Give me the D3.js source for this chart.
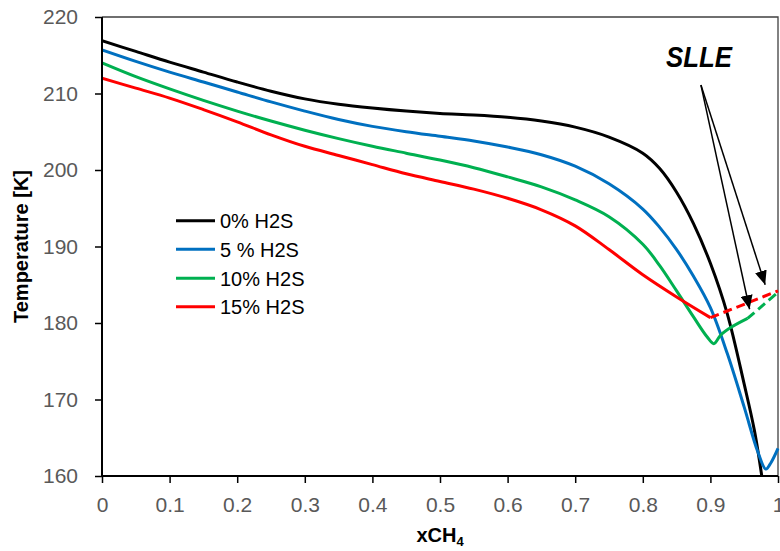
<!DOCTYPE html>
<html><head><meta charset="utf-8">
<script src="https://cdn.jsdelivr.net/npm/d3@7"></script>
<style>body{margin:0;background:#fff} svg{display:block}</style>
</head><body>
<svg id="c" width="780" height="551"></svg>
<script>
// ---------- data ----------
const seriesNames = ["0% H2S", "5 % H2S", "10% H2S", "15% H2S"];
const seriesColors = ["#000000", "#0070C0", "#00B050", "#FF0000"];
const xTickValues = [0, 0.1, 0.2, 0.3, 0.4, 0.5, 0.6, 0.7, 0.8, 0.9, 1];
const xTickLabels = ["0", "0.1", "0.2", "0.3", "0.4", "0.5", "0.6", "0.7", "0.8", "0.9", "1"];
const yTickValues = [160, 170, 180, 190, 200, 210, 220];
const yTickLabels = ["160", "170", "180", "190", "200", "210", "220"];

// 0% H2S (solid)
const x0 = [0, 0.05, 0.1, 0.15, 0.2, 0.25, 0.3, 0.35, 0.4, 0.45, 0.5, 0.55, 0.6, 0.65, 0.7, 0.75, 0.8, 0.825, 0.85, 0.875, 0.9, 0.925, 0.95, 0.965, 0.976];
const t0 = [216.9, 215.5, 214.1, 212.8, 211.5, 210.3, 209.3, 208.6, 208.1, 207.7, 207.4, 207.2, 206.9, 206.4, 205.6, 204.3, 202.2, 200.2, 197.1, 193.0, 187.8, 181.2, 172.0, 166.0, 160.0];
// 5% H2S (solid)
const x5 = [0, 0.05, 0.1, 0.15, 0.2, 0.25, 0.3, 0.35, 0.4, 0.45, 0.5, 0.55, 0.6, 0.65, 0.7, 0.75, 0.8, 0.825, 0.85, 0.875, 0.9, 0.925, 0.95, 0.97, 0.982, 0.99, 1.0];
const t5 = [215.7, 214.2, 212.8, 211.5, 210.2, 208.9, 207.7, 206.6, 205.7, 205.0, 204.4, 203.8, 203.0, 202.0, 200.5, 198.2, 194.9, 192.5, 189.6, 186.1, 182.0, 176.0, 169.0, 163.2, 160.9, 161.8, 163.6];
// 10% H2S (solid part, then dashed SLLE part)
const x10 = [0, 0.05, 0.1, 0.15, 0.2, 0.25, 0.3, 0.35, 0.4, 0.45, 0.5, 0.55, 0.6, 0.65, 0.7, 0.75, 0.8, 0.825, 0.85, 0.875, 0.895, 0.905, 0.915, 0.93, 0.955];
const t10 = [214.0, 212.2, 210.6, 209.1, 207.7, 206.4, 205.2, 204.1, 203.1, 202.2, 201.3, 200.3, 199.1, 197.8, 196.1, 193.9, 190.3, 187.5, 184.2, 180.8, 178.2, 177.3, 178.4, 179.4, 180.6];
const x10d = [0.955, 0.98, 1.0];
const t10d = [180.6, 182.5, 184.0];
// 15% H2S (solid part, then dashed SLLE part)
const x15 = [0, 0.05, 0.1, 0.15, 0.2, 0.25, 0.3, 0.35, 0.4, 0.45, 0.5, 0.55, 0.6, 0.65, 0.7, 0.75, 0.8, 0.85, 0.9];
const t15 = [212.0, 210.7, 209.4, 207.9, 206.3, 204.6, 203.1, 201.9, 200.7, 199.5, 198.5, 197.5, 196.3, 194.8, 192.7, 189.6, 186.3, 183.4, 180.7];
const x15d = [0.9, 1.0];
const t15d = [180.7, 184.2];

// ---------- layout ----------
const L = 102, R = 778, T = 17, B = 476;
const svg = d3.select("#c");
const x = d3.scaleLinear().domain([0, 1]).range([L, R]);
const y = d3.scaleLinear().domain([160, 220]).range([B, T]);
const tickFont = "'Liberation Sans', Arial, sans-serif";

// frame (top/right)
svg.append("path")
  .attr("d", `M${L},${T}H${R}V${B}`)
  .attr("fill", "none").attr("stroke", "#404040").attr("stroke-width", 1.3);

// clip
svg.append("clipPath").attr("id", "clip")
  .append("rect").attr("x", L).attr("y", T - 2).attr("width", R - L + 2).attr("height", B - T + 3);

const pairs = (xs, ts) => xs.map((v, i) => [v, ts[i]]);
const line = d3.line().x(d => x(d[0])).y(d => y(d[1])).curve(d3.curveCatmullRom.alpha(0.5));
const lineStraight = d3.line().x(d => x(d[0])).y(d => y(d[1]));

const g = svg.append("g").attr("clip-path", "url(#clip)");
const solid = [pairs(x0, t0), pairs(x5, t5), pairs(x10, t10), pairs(x15, t15)];
solid.forEach((d, i) => {
  g.append("path").attr("d", line(d)).attr("fill", "none")
    .attr("stroke", seriesColors[i]).attr("stroke-width", 3)
    .attr("stroke-linejoin", "round").attr("stroke-linecap", "butt");
});
g.append("path").attr("d", line(pairs(x10d, t10d))).attr("fill", "none")
  .attr("stroke", seriesColors[2]).attr("stroke-width", 3).attr("stroke-dasharray", "9,5");
g.append("path").attr("d", lineStraight(pairs(x15d, t15d))).attr("fill", "none")
  .attr("stroke", seriesColors[3]).attr("stroke-width", 3).attr("stroke-dasharray", "9,5");

// axes
const yAxis = d3.axisLeft(y).tickValues(yTickValues).tickFormat((d, i) => yTickLabels[i]).tickSize(7).tickPadding(17);
const xAxis = d3.axisBottom(x).tickValues(xTickValues).tickFormat((d, i) => xTickLabels[i]).tickSize(7).tickPadding(14);
const ya = svg.append("g").attr("transform", `translate(${L},0)`).call(yAxis);
const xa = svg.append("g").attr("transform", `translate(0,${B})`).call(xAxis);
[ya, xa].forEach(a => {
  a.select(".domain").attr("stroke", "#000").attr("stroke-width", 2);
  a.selectAll(".tick line").attr("stroke", "#000").attr("stroke-width", 1.5);
  a.selectAll(".tick text").attr("fill", "#595959").style("font-family", tickFont).style("font-size", "21px");
});
ya.select(".domain").attr("d", `M0,${T}V${B}`);
xa.select(".domain").attr("d", `M${L},0H${R}`);

// axis titles
svg.append("text").attr("transform", `translate(28,${(T + B) / 2}) rotate(-90)`)
  .attr("text-anchor", "middle").style("font-family", tickFont).style("font-weight", "bold")
  .style("font-size", "20px").attr("fill", "#000").text("Temperature [K]");
const xt = svg.append("text").attr("x", x(0.5)).attr("y", 542).attr("text-anchor", "middle")
  .style("font-family", tickFont).style("font-weight", "bold").style("font-size", "20px").attr("fill", "#000");
xt.append("tspan").text("xCH");
xt.append("tspan").attr("dy", 4).style("font-size", "13px").text("4");

// legend
const legendRowY = [220.7, 249.3, 278.3, 306.7];
seriesNames.forEach((n, i) => {
  svg.append("line").attr("x1", 176).attr("x2", 215).attr("y1", legendRowY[i]).attr("y2", legendRowY[i])
    .attr("stroke", seriesColors[i]).attr("stroke-width", 3);
  svg.append("text").attr("x", 220).attr("y", legendRowY[i]).attr("dy", "0.36em")
    .style("font-family", tickFont).style("font-size", "20px").attr("fill", "#000").text(n);
});

// SLLE annotation
const slleLabel = { x: 0.883, t: 213.4 };
const arrowStart = [0.886, 211.1];
const arrowTips = [[0.958, 181.8], [0.981, 185.0]];
svg.append("defs").append("marker").attr("id", "ah").attr("markerUnits", "userSpaceOnUse")
  .attr("viewBox", "0 0 14 12").attr("refX", 14).attr("refY", 6)
  .attr("markerWidth", 14).attr("markerHeight", 12).attr("orient", "auto")
  .append("path").attr("d", "M0,0L14,6L0,12Z").attr("fill", "#000");
arrowTips.forEach(tip => {
  svg.append("line").attr("x1", x(arrowStart[0])).attr("y1", y(arrowStart[1]))
    .attr("x2", x(tip[0])).attr("y2", y(tip[1]))
    .attr("stroke", "#000").attr("stroke-width", 1.5).attr("marker-end", "url(#ah)");
});
svg.append("text").attr("x", x(slleLabel.x)).attr("y", y(slleLabel.t)).attr("text-anchor", "middle")
  .style("font-family", tickFont).style("font-weight", "bold").style("font-style", "italic")
  .style("font-size", "29px").attr("textLength", 66).attr("lengthAdjust", "spacingAndGlyphs")
  .attr("fill", "#000").text("SLLE");
</script>
</body></html>
